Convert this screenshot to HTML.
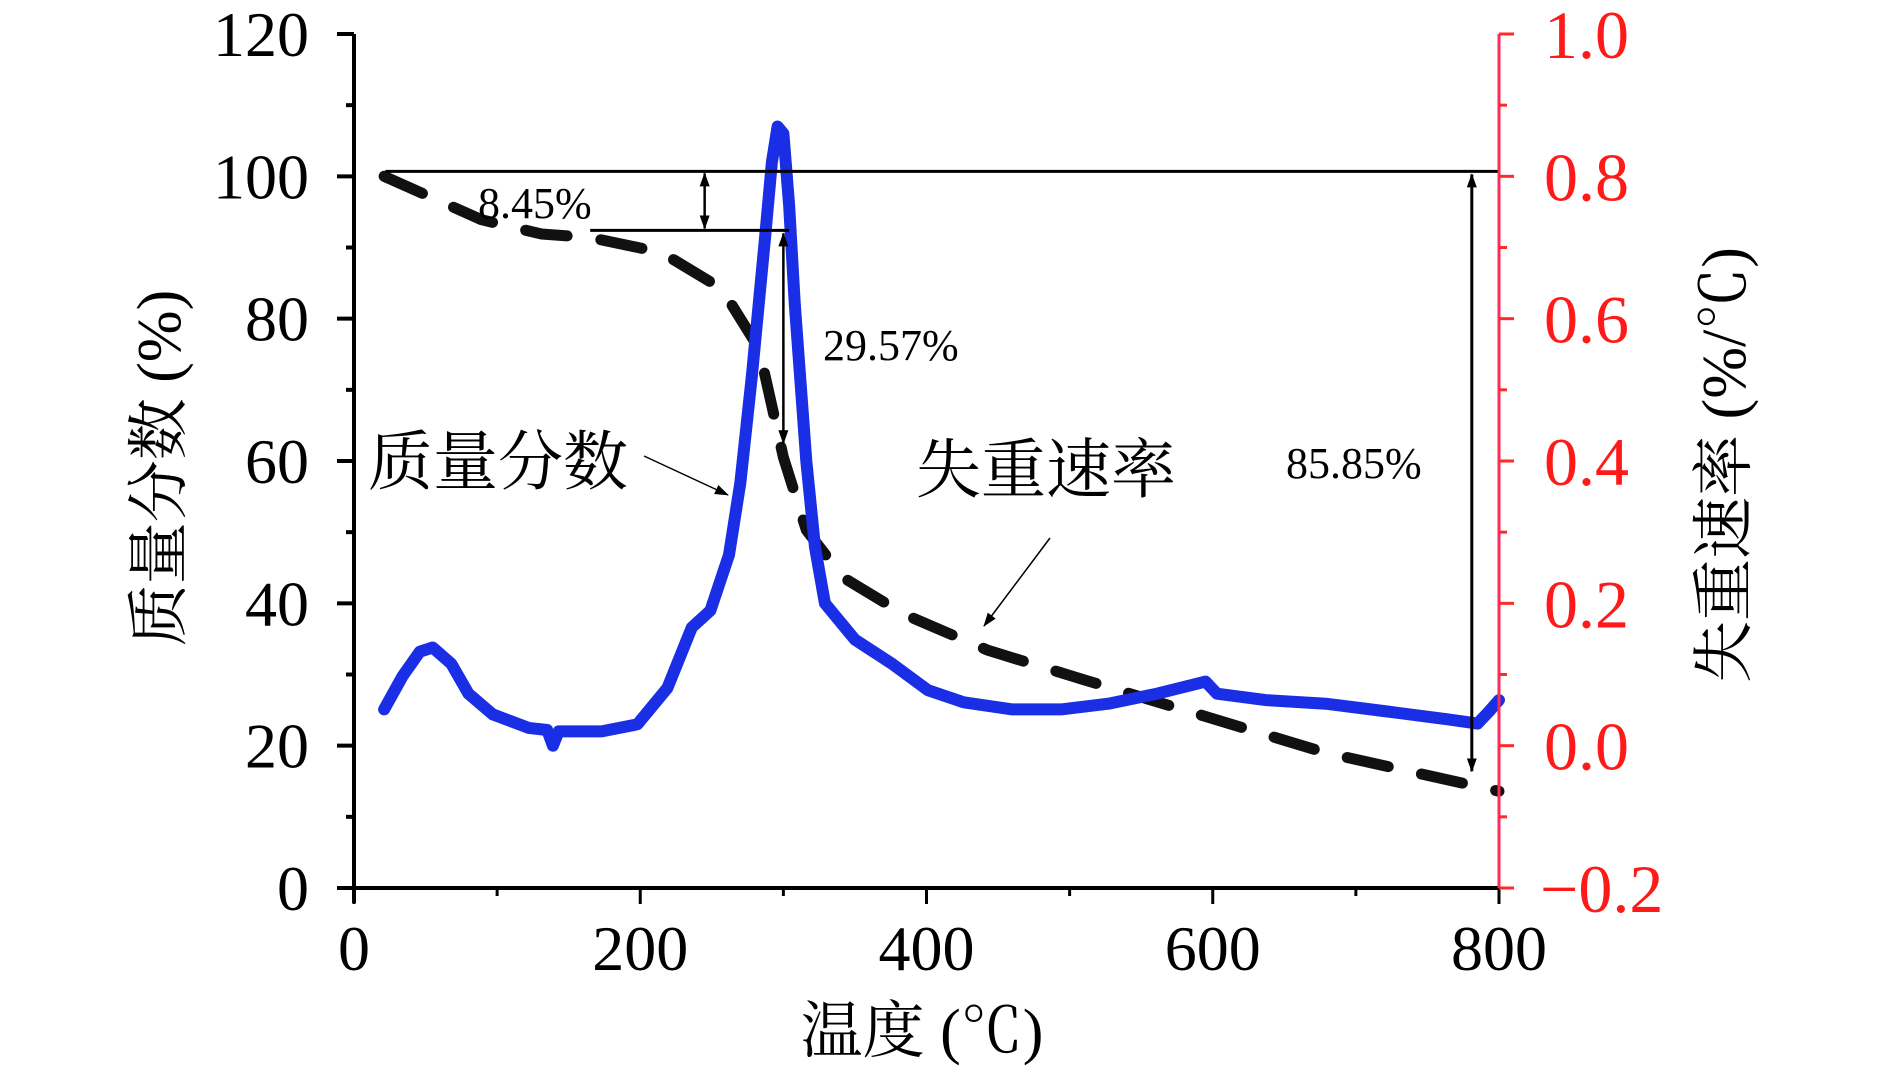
<!DOCTYPE html>
<html><head><meta charset="utf-8"><style>
html,body{margin:0;padding:0;background:#fff;}
svg{display:block;}
text{font-family:"Liberation Serif","Noto Serif CJK SC","Noto Sans CJK SC",serif;}
</style></head><body>
<svg id="chart" width="1890" height="1072" viewBox="0 0 1890 1072" xmlns="http://www.w3.org/2000/svg">
<g id="plot"></g>
</svg>
<script>
const temps = [21,89,131,165,215,257,283,300,316,342,384,443,511,595,679,800];
const massValues = [100,93.9,91.9,91.4,89.3,84.2,75.8,60.5,50.3,43.6,38.5,33.4,29.2,24.1,19.0,13.6];
const rateTemps = [21,34,46,55,68,80,97,122,135,139,143,173,198,219,236,249,262,270,278,287,292,296,300,304,308,316,322,329,350,376,401,426,460,494,527,561,595,603,637,679,722,764,785,793,800];
const rateValues = [0.051,0.098,0.132,0.138,0.115,0.073,0.044,0.025,0.022,0.0,0.02,0.02,0.03,0.081,0.166,0.19,0.268,0.37,0.52,0.71,0.82,0.87,0.86,0.76,0.62,0.40,0.28,0.20,0.149,0.115,0.078,0.061,0.051,0.051,0.059,0.073,0.09,0.073,0.064,0.059,0.048,0.037,0.031,0.048,0.064];
const xTicks = [0,200,400,600,800];
const leftTicks = [0,20,40,60,80,100,120];
const rightTicks = ["\u22120.2","0.0","0.2","0.4","0.6","0.8","1.0"];
const rightTickVals = [-0.2,0,0.2,0.4,0.6,0.8,1.0];

const X0=354,X1=1499,Y0=888,Y1=34;
const x = t => X0 + t*(X1-X0)/800;
const yL = v => Y0 - v*(Y0-Y1)/120;
const yR = r => yL(20 + 100*r);
const NS="http://www.w3.org/2000/svg";
const g=document.getElementById('plot');
function mk(tag,attrs,txt){const e=document.createElementNS(NS,tag);for(const k in attrs)e.setAttribute(k,attrs[k]);if(txt!==undefined)e.textContent=txt;g.appendChild(e);return e;}

const defs=document.createElementNS(NS,'defs');
defs.innerHTML='<marker id="ahs" markerWidth="14" markerHeight="14" refX="13" refY="5" orient="auto-start-reverse" markerUnits="userSpaceOnUse"><path d="M0,0 L14,5 L0,10 z" fill="#000"/></marker>';
document.getElementById('chart').appendChild(defs);

let d=temps.map((t,i)=>(i?'L':'M')+x(t).toFixed(1)+','+yL(massValues[i]).toFixed(1)).join(' ');
let e=mk('path',{d:d,fill:'none',stroke:'#111','stroke-width':11,'stroke-dasharray':'42 34','stroke-linecap':'round','stroke-linejoin':'round'});



d=rateTemps.map((t,i)=>(i?'L':'M')+x(t).toFixed(1)+','+yR(rateValues[i]).toFixed(1)).join(' ');
e=mk('path',{d:d,fill:'none',stroke:'#1a2ee6','stroke-width':12,'stroke-linejoin':'round','stroke-linecap':'round'});



e=mk('line',{x1:x(22),x2:x(800),y1:yL(100.7),y2:yL(100.7),stroke:'#000','stroke-width':3});


e=mk('line',{x1:x(165),x2:x(304),y1:yL(92.4),y2:yL(92.4),stroke:'#000','stroke-width':3});


e=mk('line',{x1:x(245),x2:x(245),y1:yL(100.7)+2,y2:yL(92.4)-2,stroke:'#000','stroke-width':2.5,'marker-start':'url(#ahs)','marker-end':'url(#ahs)'});


e=mk('line',{x1:x(300),x2:x(300),y1:yL(92.4)+3,y2:yL(62.5),stroke:'#000','stroke-width':2.5,'marker-start':'url(#ahs)','marker-end':'url(#ahs)'});


e=mk('line',{x1:x(781),x2:x(781),y1:yL(100.7)+3,y2:yL(16.4),stroke:'#000','stroke-width':3,'marker-start':'url(#ahs)','marker-end':'url(#ahs)'});


e=mk('line',{x1:644,y1:456,x2:728,y2:495,stroke:'#000','stroke-width':1.5,'marker-end':'url(#ahs)'});


e=mk('line',{x1:1050,y1:538,x2:984,y2:626,stroke:'#000','stroke-width':1.5,'marker-end':'url(#ahs)'});



e=mk('text',{x:478,y:218,'font-size':44},'8.45%');


e=mk('text',{x:823,y:360,'font-size':44},'29.57%');


e=mk('text',{x:1286,y:478,'font-size':44},'85.85%');


e=mk('text',{x:368,y:484,'font-size':65},'质量分数');


e=mk('text',{x:916,y:492,'font-size':65},'失重速率');



e=mk('line',{x1:X0,x2:X0,y1:Y1,y2:Y0+15,stroke:'#000','stroke-width':4});


e=mk('line',{x1:X0-17,x2:X1,y1:Y0,y2:Y0,stroke:'#000','stroke-width':4});


e=mk('line',{x1:X1,x2:X1,y1:Y1,y2:Y0,stroke:'#ff2a55','stroke-width':3});


e=mk('line',{x1:X1,x2:X1,y1:Y0,y2:Y0+16,stroke:'#000','stroke-width':3});



leftTicks.forEach((v,i)=>{
  let t=mk('line',{x1:X0-17,x2:X0,y1:yL(v),y2:yL(v),stroke:'#000','stroke-width':4});
  
  
  if(i<leftTicks.length-1){let m=mk('line',{x1:X0-8,x2:X0,y1:yL(v+10),y2:yL(v+10),stroke:'#000','stroke-width':4});
  
  }
  let l=mk('text',{x:309,y:yL(v)+22,'font-size':64,'text-anchor':'end'},String(v));
  
  
});
xTicks.forEach((v,i)=>{
  let t=mk('line',{x1:x(v),x2:x(v),y1:Y0,y2:Y0+16,stroke:'#000','stroke-width':3});
  
  
  if(i<xTicks.length-1){let m=mk('line',{x1:x(v+100),x2:x(v+100),y1:Y0,y2:Y0+8,stroke:'#000','stroke-width':3});
  
  }
  let l=mk('text',{x:x(v),y:970,'font-size':64,'text-anchor':'middle'},String(v));
  
  
});
rightTickVals.forEach((v,i)=>{
  let t=mk('line',{x1:X1,x2:X1+15,y1:yR(v),y2:yR(v),stroke:'#ff2a2a','stroke-width':3});
  
  
  if(i<rightTickVals.length-1){let m=mk('line',{x1:X1,x2:X1+8,y1:yR(v+0.1),y2:yR(v+0.1),stroke:'#ff2a2a','stroke-width':3});
  
  }
  let l=mk('text',{x:v<0?1540:1544,y:yR(v)+24,'font-size':68,fill:'#ff1a1a'},rightTicks[i]);
  
  
});

e=mk('text',{x:922,y:1052,'font-size':62,'text-anchor':'middle'},'温度 (℃)');


e=mk('text',{x:0,y:0,'font-size':62,'text-anchor':'middle',transform:'translate(180,468) rotate(-90)'},'质量分数 (%)');


e=mk('text',{x:0,y:0,'font-size':62,'text-anchor':'middle',transform:'translate(1745,465) rotate(-90)'},'失重速率 (%/℃)');


</script>
</body></html>
